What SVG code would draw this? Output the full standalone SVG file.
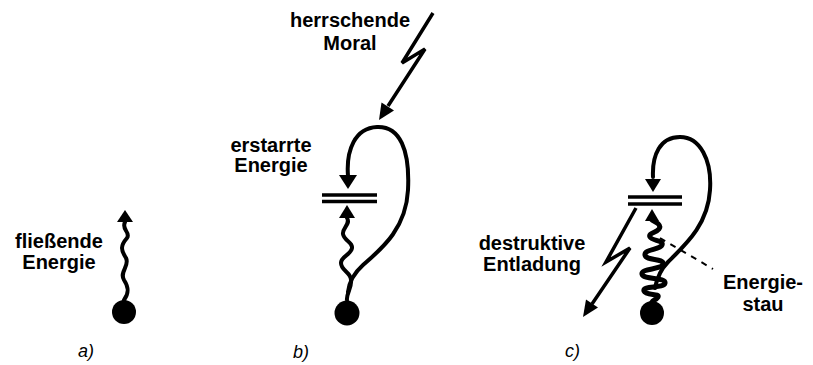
<svg xmlns="http://www.w3.org/2000/svg" width="813" height="365" viewBox="0 0 813 365">
<style>
.lbl{font-family:"Liberation Sans",Arial,sans-serif;font-weight:bold;font-size:20px;fill:#000;text-anchor:middle}
.cap{font-family:"Liberation Sans",Arial,sans-serif;font-style:italic;font-size:18px;fill:#000}
.w{fill:none;stroke:#000;stroke-width:4;stroke-linecap:round;stroke-linejoin:round}
.bolt{fill:none;stroke:#000;stroke-width:3.5;stroke-linejoin:miter}
.plate{stroke:#000;stroke-width:3.5}
.dash{fill:none;stroke:#000;stroke-width:2;stroke-dasharray:6 6}
</style>
<rect width="813" height="365" fill="#fff"/>
<g id="panel-a">
  <circle cx="124" cy="312" r="12"/>
  <path class="w" d="M124,300 C130,292 128,286 124,280 C119,272 130,266 126,258 C121,250 120,246 127,238 C131,232 121,230 125,222"/>
  <polygon points="125,210 117,222 133,222"/>
  <text class="lbl" x="59" y="248">fließende</text>
  <text class="lbl" x="59" y="269">Energie</text>
  <text class="cap" x="78" y="357">a)</text>
</g>
<g id="panel-b">
  <circle cx="347" cy="313" r="12.5"/>
  <line class="plate" x1="322" y1="195" x2="377" y2="195"/>
  <line class="plate" x1="322" y1="201.5" x2="377" y2="201.5"/>
  <polygon points="348,189 339,175 357,175"/>
  <polygon points="347,205 339,218 355,218"/>
  <text class="lbl" x="350" y="27">herrschende</text>
  <text class="lbl" x="350" y="50">Moral</text>
  <text class="lbl" x="271" y="152">erstarrte</text>
  <text class="lbl" x="271" y="172">Energie</text>
  <text class="cap" x="293" y="358">b)</text>
</g>
<g id="panel-c">
  <circle cx="652" cy="313" r="12"/>
  <line class="plate" x1="628" y1="197" x2="682" y2="197"/>
  <line class="plate" x1="628" y1="204" x2="682" y2="204"/>
  <polygon points="653,192 645,179 661,179"/>
  <polygon points="652,209 645,221 659,221"/>
  <text class="lbl" x="532" y="250">destruktive</text>
  <text class="lbl" x="532" y="271">Entladung</text>
  <text class="lbl" x="763" y="289">Energie-</text>
  <text class="lbl" x="763" y="311">stau</text>
  <text class="cap" x="565" y="357">c)</text>
</g>
<g id="connectors">
  <!-- b -->
  <path class="w" d="M347,218 C351,224 342,228 343,234 C344,241 353,242 352,248 C351,255 341,256 341,263 C341,271 351,272 351,280 C352,288 346,294 347,300"/>
  <path class="w" d="M348,176 C346,150 355,128 377,127 C400,126 410,150 408,190 C406,230 380,250 363,265 C353,274 349,282 348,292"/>
  <polyline class="bolt" points="433,13 402,63 425,49 388,106"/>
  <polygon points="379,120 394,110.5 381.5,102.5"/>
  <!-- c -->
  <path class="w" style="stroke-width:5" d="M652,220 C656,222 662,225 659,229 C656,233 648,233 650,237 C652,241 664,240 662,245 C660,250 644,249 645,255 C646,261 664,258 663,264 C662,270 641,268 642,274 C643,280 666,277 665,283 C664,289 642,285 644,291 C646,296 660,293 658,297 C656,300 653,300 652,302"/>
  <path class="w" d="M653,177 C652,155 660,137 680,137 C700,137 712,160 710,190 C708,225 685,245 668,262 C660,270 657,278 655,288"/>
  <polyline class="bolt" points="636,208 606,262 630,248 592,304"/>
  <polygon points="583,317 598,307.5 586,299.5"/>
  <path class="dash" d="M660,238 L713,269"/>
</g>
</svg>
